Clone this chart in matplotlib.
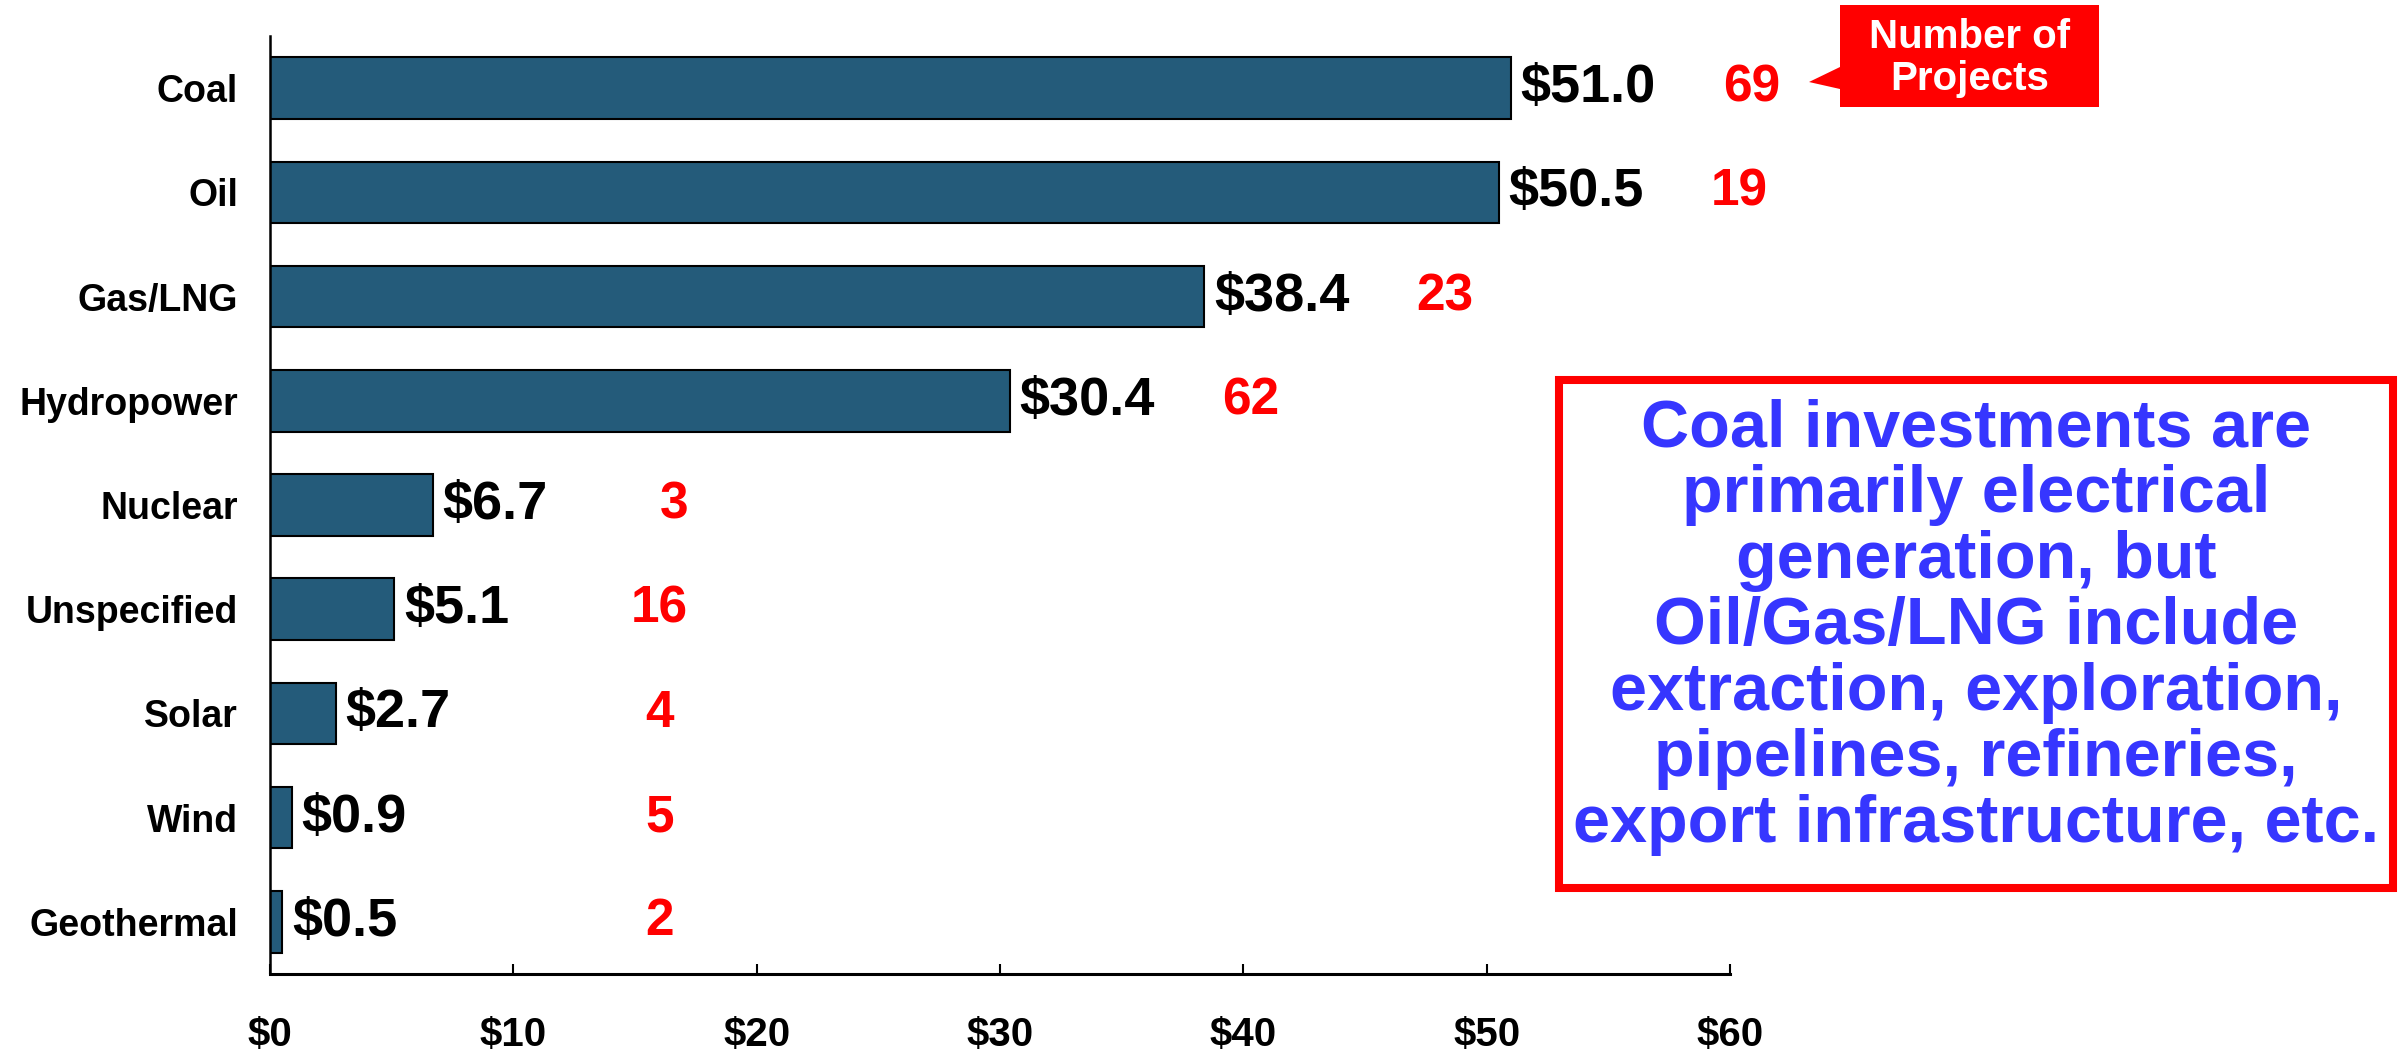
import matplotlib
matplotlib.use("Agg")
import matplotlib.pyplot as plt
from matplotlib import patches

plt.rcParams['font.family'] = ['Liberation Sans', 'DejaVu Sans']
plt.rcParams['font.weight'] = 'bold'

# Investment by energy type ($ billions) and number of projects
categories = ["Coal", "Oil", "Gas/LNG", "Hydropower", "Nuclear",
              "Unspecified", "Solar", "Wind", "Geothermal"]
investment = [51.0, 50.5, 38.4, 30.4, 6.7, 5.1, 2.7, 0.9, 0.5]
projects = [69, 19, 23, 62, 3, 16, 4, 5, 2]
x_ticks = [0, 10, 20, 30, 40, 50, 60]
x_tick_labels = ["$0", "$10", "$20", "$30", "$40", "$50", "$60"]

note = ("Coal investments are\nprimarily electrical\ngeneration, but\n"
        "Oil/Gas/LNG include\nextraction, exploration,\npipelines, refineries,\n"
        "export infrastructure, etc.")

W, H = 2407, 1054
fig = plt.figure(figsize=(W / 100, H / 100), dpi=100)


def fx(px):
    return px / W


def fy(py):
    return 1 - py / H


ax = fig.add_axes([fx(270), fy(974), fx(1730) - fx(270), fy(36) - fy(974)])

bar_color = "#245b7a"
ypos = list(range(len(categories)))[::-1]
ax.barh(ypos, investment, height=0.59, color=bar_color,
        edgecolor="black", linewidth=1.5, zorder=2)

ax.set_xlim(0, 60)
ax.set_ylim(-0.5, len(categories) - 0.5)
ax.set_yticks(ypos)
ax.set_yticklabels(categories, fontsize=27, fontweight='bold')
ax.set_xticks(x_ticks)
ax.set_xticklabels(x_tick_labels, fontsize=29, fontweight='bold')
ax.tick_params(axis='y', length=0, pad=23)
ax.tick_params(axis='x', direction='in', length=7, width=1.5, pad=30)

for s in ("top", "right"):
    ax.spines[s].set_visible(False)
ax.spines["left"].set_linewidth(1.8)
ax.spines["bottom"].set_linewidth(2.2)

# Value labels next to each bar, project counts further right in red
for y, v, n in zip(ypos, investment, projects):
    ax.annotate(f"${v:.1f}", xy=(v, y), xytext=(7, 0), textcoords="offset points",
                ha="left", va="center", fontsize=39, fontweight="bold", color="black")
    ax.text(max(v + 9.9, 16.0), y, str(n), ha="center", va="center",
            fontsize=37, fontweight="bold", color="#ff0000", clip_on=False)

# "Number of Projects" callout with pointer
callout = [(1840, 5), (2099, 5), (2099, 107), (1840, 107), (1840, 89),
           (1809, 82), (1840, 67)]
fig.add_artist(patches.Polygon([(fx(x), fy(y)) for x, y in callout], closed=True,
                               transform=fig.transFigure, facecolor="#ff0000",
                               edgecolor="none"))
fig.text(fx(1970), fy(58), "Number of\nProjects", ha="center", va="center",
         fontsize=29, fontweight="bold", color="white", linespacing=1.12)

# Explanatory note box
fig.add_artist(patches.Rectangle((fx(1559), fy(888)), fx(2393) - fx(1559),
                                 fy(380) - fy(888), transform=fig.transFigure,
                                 facecolor="white", edgecolor="#ff0000",
                                 linewidth=5.8))
fig.text(fx(1976), fy(627), note, ha="center", va="center", fontsize=48,
         fontweight="bold", color="#3636ff", linespacing=1.08)

fig.savefig("out.png", dpi=100, facecolor="white")
